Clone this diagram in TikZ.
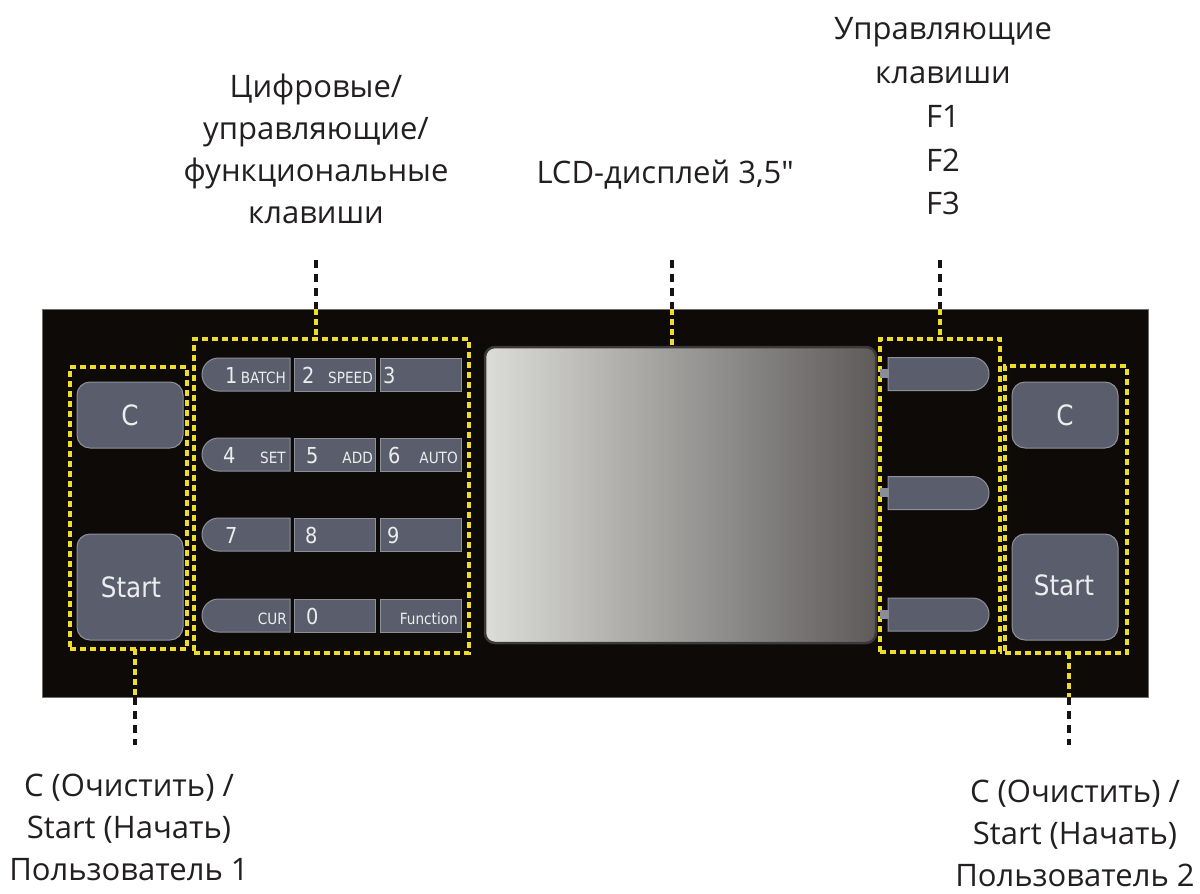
\documentclass[tikz,border=0pt]{standalone}
\usepackage{fontspec}
\setmainfont{Open Sans}
\newfontfamily\keyfont[FakeStretch=0.88]{DejaVu Sans}
\usetikzlibrary{shapes.misc}
\definecolor{panelbg}{HTML}{0D0A08}
\definecolor{panelline}{HTML}{6E6E6E}
\definecolor{keyfill}{HTML}{5A5D6C}
\definecolor{keyline}{HTML}{8E909A}
\definecolor{keytext}{HTML}{EDEDED}
\definecolor{tabgray}{HTML}{8A8C96}
\definecolor{dashyel}{HTML}{EEDC2A}
\definecolor{dashblk}{HTML}{141414}
\definecolor{labeltext}{HTML}{231F20}
\definecolor{lcdL}{HTML}{DCDCD8}
\definecolor{lcdM}{HTML}{ADACAA}
\definecolor{lcdR}{HTML}{5E5B5A}
\definecolor{lcdrim}{HTML}{3A3A3A}
\tikzset{
  lbl/.style={font={\fontsize{31}{#1}\selectfont}, text=labeltext, inner sep=0, anchor=base},
  lbl/.default=42,
  dbox/.style={draw=dashyel, line width=3.5, dash pattern=on 6 off 4, inner sep=0, outer sep=0, anchor=north west},
  leaderblk/.style={draw=dashblk, line width=3.5, dash pattern=on 8 off 6},
  leaderyel/.style={draw=dashyel, line width=3.5, dash pattern=on 6 off 4},
  keybase/.style={fill=keyfill, draw=keyline, line width=1, inner sep=0, outer sep=0},
  sqkey/.style={keybase, rectangle, minimum width=81, minimum height=33},
  lkey/.style={keybase, rounded rectangle, rounded rectangle right arc=none, minimum width=88, minimum height=33},
  fkey/.style={keybase, rounded rectangle, rounded rectangle left arc=none, minimum width=101, minimum height=33},
  bigkey/.style={keybase, rectangle, rounded corners=13, minimum width=106},
  digit/.style={font={\keyfont\fontsize{22}{22}\selectfont}, text=keytext, inner sep=0, anchor=base west},
  small/.style={font={\keyfont\fontsize{15.5}{16}\selectfont}, text=keytext, inner sep=0, anchor=base east},
  btntext/.style={font={\keyfont\fontsize{28}{28}\selectfont}, text=keytext, inner sep=0, anchor=base},
}
\begin{document}
\begin{tikzpicture}[x=1pt,y=-1pt]
\useasboundingbox (0,0) rectangle (1200,894);
\fill[white] (0,0) rectangle (1200,894);

% panel
\node[draw=panelline, fill=panelbg, line width=1, minimum width=1106, minimum height=388, inner sep=0, outer sep=0, anchor=north west] (panel) at (42,309) {};

% LCD
\node[draw=lcdrim, line width=2.5, rounded corners=10, left color=lcdL, middle color=lcdM, right color=lcdR, minimum width=391, minimum height=296, inner sep=0, outer sep=0, anchor=north west] (lcd) at (485,347) {};

% dashed group boxes
\node[dbox, minimum width=117, minimum height=282] (lbox) at (70,367) {};
\node[dbox, minimum width=275, minimum height=314] (kbox) at (194,339) {};
\node[dbox, minimum width=120, minimum height=313] (fbox) at (880,339) {};
\node[dbox, minimum width=122, minimum height=287] (rbox) at (1005,366) {};

% left buttons
\node[bigkey, minimum height=66] (lc) at (130,415) {};
\node[btntext] (lctext) at (130,425) {C};
\node[bigkey, minimum height=106] (ls) at (130,587) {};
\node[btntext] (lstext) at (131,597) {Start};

% right buttons
\node[bigkey, minimum height=66] (rc) at (1065,415) {};
\node[btntext] (rctext) at (1065,425) {C};
\node[bigkey, minimum height=106] (rs) at (1065,587) {};
\node[btntext] (rstext) at (1064,595) {Start};

% keypad rows
\node[lkey] (k1) at (246,374.5) {};
\node[sqkey] (k2) at (334.5,374.5) {};
\node[sqkey] (k3) at (420.5,374.5) {};
\node[lkey] (k4) at (246,454.5) {};
\node[sqkey] (k5) at (334.5,454.5) {};
\node[sqkey] (k6) at (420.5,454.5) {};
\node[lkey] (k7) at (246,534.5) {};
\node[sqkey] (k8) at (334.5,534.5) {};
\node[sqkey] (k9) at (420.5,534.5) {};
\node[lkey] (kcur) at (246,615.5) {};
\node[sqkey] (k0) at (334.5,615.5) {};
\node[sqkey] (kfn) at (420.5,615.5) {};

\node[digit] (t1) at (225,383) {1};
\node[small] (tbatch) at (286,383) {BATCH};
\node[digit] (t2) at (302,383) {2};
\node[small] (tspeed) at (373,383) {SPEED};
\node[digit] (t3) at (383,383) {3};
\node[digit] (t4) at (223,463) {4};
\node[small] (tset) at (286,463) {SET};
\node[digit] (t5) at (306,463) {5};
\node[small] (tadd) at (373,463) {ADD};
\node[digit] (t6) at (388,463) {6};
\node[small] (tauto) at (458,463) {AUTO};
\node[digit] (t7) at (225,543) {7};
\node[digit] (t8) at (305,543) {8};
\node[digit] (t9) at (387,543) {9};
\node[small] (tcur) at (287,624) {CUR};
\node[digit] (t0) at (306,624) {0};
\node[small] (tfn) at (458,624) {Function};

% F keys with tabs
\node[fkey] (f1) at (938.5,374) {};
\node[fkey] (f2) at (938.5,493) {};
\node[fkey] (f3) at (938.5,614.5) {};
\fill[tabgray] (880,369) rectangle (889,378);
\fill[tabgray] (880,488) rectangle (889,497);
\fill[tabgray] (880,610) rectangle (889,619);

% labels
\node[lbl=42] (lblkeys) at (316,97) {\begin{tabular}[t]{@{}c@{}}Цифровые/\\управляющие/\\функциональные\\клавиши\end{tabular}};
\node[lbl] (lbllcd) at (665,183) {LCD-дисплей 3,5\char"2033};
\node[lbl=44] (lblf) at (943,39) {\begin{tabular}[t]{@{}c@{}}Управляющие\\клавиши\\F1\\F2\\F3\end{tabular}};
\node[lbl=42] (lblu1) at (129,796) {\begin{tabular}[t]{@{}c@{}}С (Очистить) /\\Start (Начать)\\Пользователь 1\\[-13pt]\end{tabular}};
\node[lbl=42] (lblu2) at (1075,802) {\begin{tabular}[t]{@{}c@{}}С (Очистить) /\\Start (Начать)\\Пользователь 2\\[-13pt]\end{tabular}};

% leaders
\coordinate (kl) at (316,260);
\draw[leaderblk] (kl) -- (kl |- panel.north);
\draw[leaderyel] (kl |- panel.north) -- (kl |- kbox.north);
\coordinate (ll) at (672,260);
\draw[leaderblk] (ll) -- (ll |- panel.north);
\draw[leaderyel] (ll |- panel.north) -- (ll |- lcd.north);
\coordinate (fl) at (940,260);
\draw[leaderblk] (fl) -- (fl |- panel.north);
\draw[leaderyel] (fl |- panel.north) -- (fl |- fbox.north);
\coordinate (ul) at (135,745);
\draw[leaderyel] (ul |- lbox.south) -- (ul |- panel.south);
\draw[leaderblk] (ul |- panel.south) -- (ul);
\coordinate (ur) at (1069,745);
\draw[leaderyel] (ur |- rbox.south) -- (ur |- panel.south);
\draw[leaderblk] (ur |- panel.south) -- (ur);
\end{tikzpicture}
\end{document}
